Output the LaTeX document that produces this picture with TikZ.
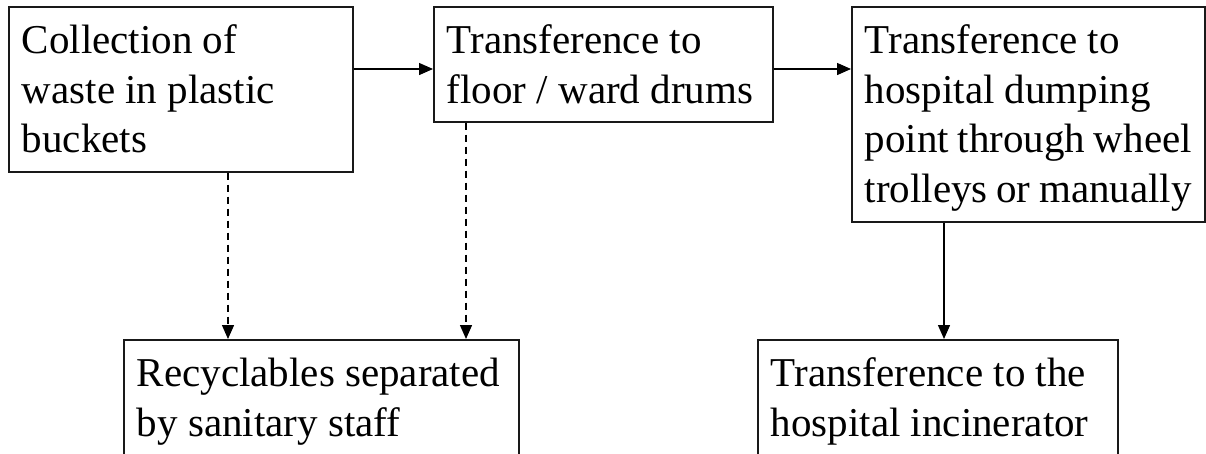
\documentclass[tikz,border=0pt]{standalone}
\usepackage{fontspec}
\setmainfont{Liberation Serif}
\usetikzlibrary{arrows.meta}
\begin{document}
\begin{tikzpicture}[x=1pt,y=1pt,
  box/.style={draw=black!90, line width=1.7pt, anchor=north west, inner xsep=13pt, inner ysep=0pt,
    font=\fontsize{41}{49.5}\selectfont},
  arr/.style={line width=1.4pt, -{Triangle[length=14pt,width=12pt]}},
  dasharr/.style={arr, dash pattern=on 7pt off 5pt}]
\useasboundingbox (0,0) rectangle (1206,-453);
\clip (0,0) rectangle (1206,-453);
\fill[white] (0,0) rectangle (1206,-453);
\node[box] (b1) at (8,-6) {\parbox[c][165pt][t]{318pt}{\rule{0pt}{47pt}Collection of\\waste in plastic\\buckets}};
\node[box] (b2) at (433,-6) {\parbox[c][115pt][t]{313pt}{\rule{0pt}{47pt}Transference to\\floor / ward drums}};
\node[box] (b3) at (851,-6) {\parbox[c][215pt][t]{327pt}{\rule{0pt}{47pt}Transference to\\hospital dumping\\point through wheel\\trolleys or manually}};
\node[box] (b4) at (123,-339) {\parbox[c][200pt][t]{369pt}{\rule{0pt}{47pt}Recyclables separated\\by sanitary staff}};
\node[box] (b5) at (757,-339) {\parbox[c][200pt][t]{334pt}{\rule{0pt}{47pt}Transference to the\\hospital incinerator}};
\draw[arr] (b1.east |- 0,-69) -- (b2.west |- 0,-69);
\draw[arr] (b2.east |- 0,-69) -- (b3.west |- 0,-69);
\draw[dasharr] (b1.south -| 228,0) -- (b4.north -| 228,0);
\draw[dasharr] (b2.south -| 466,0) -- (b4.north -| 466,0);
\draw[arr] (b3.south -| 944,0) -- (b5.north -| 944,0);
\end{tikzpicture}
\end{document}
